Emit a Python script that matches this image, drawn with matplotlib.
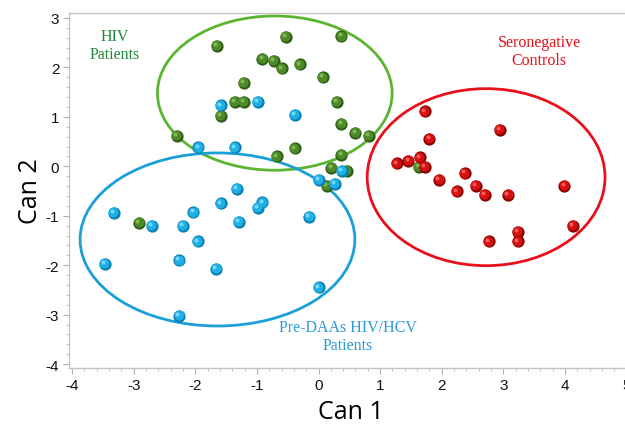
import matplotlib
matplotlib.use("Agg")
import matplotlib.pyplot as plt
from matplotlib.patches import Ellipse
from matplotlib.ticker import MultipleLocator
from matplotlib.transforms import offset_copy


# ------------------------------------------------------------
# Data (canonical scores)
# ------------------------------------------------------------

hiv_x = [-1.65, -0.53, 0.37, -0.91, -0.72, -0.60, -0.30, 0.07, -1.21, -1.36,
         -1.21, 0.30, -1.58, 0.37, 0.60, 0.82, -2.30, -0.38, -0.68, 0.37,
         0.21, 0.46, 0.13, 1.63, -2.91]
hiv_y = [2.43, 2.62, 2.63, 2.17, 2.13, 1.98, 2.06, 1.80, 1.69, 1.31,
         1.31, 1.31, 1.02, 0.86, 0.67, 0.62, 0.62, 0.36, 0.20, 0.23,
         -0.03, -0.09, -0.39, -0.01, -1.15]

hcv_x = [-1.58, -0.98, -0.38, -1.95, -1.36, 0.38, -1.33, -1.58, -0.91, -0.99,
         -3.32, -2.03, -2.71, -2.20, -1.29, -1.96, -3.47, -2.26, -1.66, -2.26,
         -0.15, 0.00, 0.27, 0.00]
hcv_y = [1.23, 1.31, 1.04, 0.38, 0.38, -0.09, -0.46, -0.75, -0.73, -0.84,
         -0.94, -0.93, -1.21, -1.21, -1.13, -1.52, -1.98, -1.90, -2.08, -3.02,
         -1.02, -0.27, -0.36, -2.45]

ctrl_x = [1.73, 2.94, 1.80, 1.27, 1.46, 1.65, 1.73, 1.96, 2.37, 2.24,
          2.55, 2.70, 3.08, 3.99, 4.13, 3.24, 3.24, 2.77]
ctrl_y = [1.11, 0.74, 0.55, 0.06, 0.11, 0.18, -0.01, -0.27, -0.14, -0.51,
          -0.39, -0.58, -0.58, -0.39, -1.21, -1.32, -1.52, -1.52]

# 95% ellipses: center x, center y, width, height
hiv_ell = (-0.71, 1.48, 3.81, 3.12)
hcv_ell = (-1.64, -1.48, 4.46, 3.50)
ctrl_ell = (2.72, -0.22, 3.86, 3.58)


# ------------------------------------------------------------
# Colors
# ------------------------------------------------------------

GREEN_LINE = "#5cb531"
BLUE_LINE = "#1a9fd6"
RED_LINE = "#e8101a"

GREEN_BALL = ("#2f5f16", "#4f8a28", "#8cc765")
BLUE_BALL = ("#0a7fb0", "#1fb0e6", "#8fe3ff")
RED_BALL = ("#8a0000", "#d41010", "#ff7070")

plt.rcParams["axes.unicode_minus"] = False


# ------------------------------------------------------------
# Figure
# ------------------------------------------------------------

fig = plt.figure(figsize=(6.25, 4.27), dpi=100)
ax = fig.add_axes([0.1104, 0.1358, 0.902, 0.8314])

ax.set_xlim(-4.05, 5.1)
ax.set_ylim(-4.08, 3.10)


def draw_ellipse(e, color):
    ax.add_patch(Ellipse((e[0], e[1]), e[2], e[3], fill=False,
                         edgecolor=color, linewidth=2.0, zorder=2))


def draw_spheres(xs, ys, cols, z):
    dark, mid, light = cols
    ax.scatter(xs, ys, s=78, color=dark, linewidths=0, zorder=z)
    t1 = offset_copy(ax.transData, fig=fig, x=-0.7, y=0.7, units="dots")
    ax.scatter(xs, ys, s=52, color=mid, linewidths=0, zorder=z + 0.1,
               transform=t1)
    t2 = offset_copy(ax.transData, fig=fig, x=-1.8, y=1.8, units="dots")
    ax.scatter(xs, ys, s=8, color=light, linewidths=0, zorder=z + 0.2,
               alpha=0.8, transform=t2)


draw_ellipse(hiv_ell, GREEN_LINE)
draw_ellipse(hcv_ell, BLUE_LINE)
draw_ellipse(ctrl_ell, RED_LINE)

draw_spheres(hiv_x, hiv_y, GREEN_BALL, 3)
draw_spheres(hcv_x, hcv_y, BLUE_BALL, 4)
draw_spheres(ctrl_x, ctrl_y, RED_BALL, 5)

# group labels
serif = ["Liberation Serif", "DejaVu Serif"]
ax.text(-3.3, 2.45, "HIV\nPatients", color="#1f8a3a", fontsize=11.5,
        family=serif, ha="center", va="center", linespacing=1.15)
ax.text(3.58, 2.33, "Seronegative\nControls", color="#e8101a", fontsize=11.5,
        family=serif, ha="center", va="center", linespacing=1.15)
ax.text(0.48, -3.44, "Pre-DAAs HIV/HCV\nPatients", color="#2a9ad8",
        fontsize=11.5, family=serif, ha="center", va="center",
        linespacing=1.15)

# axes styling
for side in ["left", "bottom", "top"]:
    ax.spines[side].set_color("#c4c4c4")
    ax.spines[side].set_linewidth(1.0)
ax.spines["right"].set_visible(False)

ax.xaxis.set_major_locator(MultipleLocator(1))
ax.xaxis.set_minor_locator(MultipleLocator(0.2))
ax.yaxis.set_major_locator(MultipleLocator(1))
ax.yaxis.set_minor_locator(MultipleLocator(0.2))

ax.tick_params(which="major", direction="out", length=4, width=0.8,
               color="#b0b0b0", labelsize=11, labelcolor="#111111", pad=3)
ax.tick_params(which="minor", direction="out", length=2.5, width=0.7,
               color="#c0c0c0")
for lab in ax.get_xticklabels() + ax.get_yticklabels():
    lab.set_family("Liberation Sans")

ax.set_xlabel("Can 1", fontsize=18, family="Open Sans", labelpad=5)
ax.set_ylabel("Can 2", fontsize=18, family="Open Sans", labelpad=2)

fig.savefig("out.png", dpi=100)
